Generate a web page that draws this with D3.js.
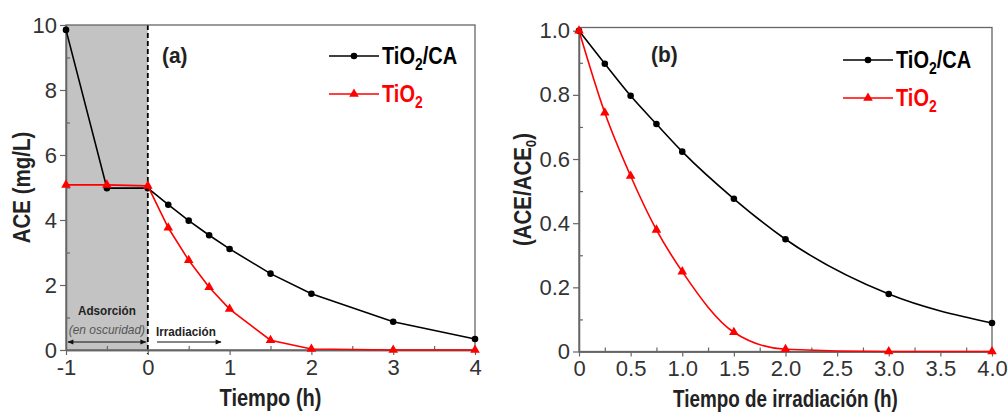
<!DOCTYPE html>
<html>
<head>
<meta charset="utf-8">
<script src="https://cdn.jsdelivr.net/npm/d3@7"></script>
<style>
  body { margin: 0; background: #fff; }
  svg { display: block; }
  text { font-family: "Liberation Sans Narrow", "Arial Narrow", "Liberation Sans", Arial, sans-serif; }
</style>
</head>
<body>
<svg id="chart" width="1008" height="413"></svg>
<script>
// panel (a): concentration vs time (h), dark phase from -1 to 0
const timeA = [-1, -0.5, 0, 0.25, 0.5, 0.75, 1, 1.5, 2, 3, 4];
const aceCA = [9.85, 4.98, 4.98, 4.47, 3.98, 3.53, 3.11, 2.35, 1.73, 0.87, 0.34];
const aceTi = [5.08, 5.08, 5.05, 3.76, 2.76, 1.93, 1.26, 0.3, 0.03, 0, 0];

// panel (b): normalised concentration vs irradiation time
const timeB = [0, 0.25, 0.5, 0.75, 1, 1.5, 2, 3, 4];
const relCA = [1.0, 0.897, 0.797, 0.709, 0.623, 0.476, 0.35, 0.179, 0.089];
const relTi = [1.0, 0.744, 0.547, 0.379, 0.249, 0.06, 0.007, 0, 0];

const ticksAx = [-1, 0, 1, 2, 3, 4];
const ticksAy = [0, 2, 4, 6, 8, 10];
const ticksBx = [0, 0.5, 1, 1.5, 2, 2.5, 3, 3.5, 4];
const ticksBy = [0, 0.2, 0.4, 0.6, 0.8, 1.0];

const svg = d3.select("#chart");
const frameCol = "#666";
const red = "#ff0000";

// the original uses a narrow font; squeeze text horizontally instead
function ntext(g, x, y, size, sx) {
    return g.append("text")
        .attr("transform", `translate(${x},${y}) scale(${sx},1)`)
        .attr("font-size", size);
}

function panel(o) {
    const x = d3.scaleLinear().domain(o.xd).range(o.xr);
    const y = d3.scaleLinear().domain(o.yd).range(o.yr);
    const g = svg.append("g");

    if (o.before) o.before(g, x, y);

    // frame
    g.append("rect")
        .attr("x", o.xr[0]).attr("y", o.yr[1])
        .attr("width", o.xr[1] - o.xr[0]).attr("height", o.yr[0] - o.yr[1])
        .attr("fill", "none").attr("stroke", frameCol).attr("stroke-width", 1.3);

    // major ticks outward, minor inward
    const xAxis = g.append("g").attr("transform", `translate(0,${o.yr[0]})`)
        .call(d3.axisBottom(x).tickValues(o.xt).tickFormat(o.xf).tickSizeInner(5).tickSizeOuter(0).tickPadding(3));
    const xMinor = g.append("g").attr("transform", `translate(0,${o.yr[0]})`)
        .call(d3.axisTop(x).tickValues(o.xm).tickFormat("").tickSizeInner(4).tickSizeOuter(0));
    const yAxis = g.append("g").attr("transform", `translate(${o.xr[0]},0)`)
        .call(d3.axisLeft(y).tickValues(o.yt).tickFormat(o.yf).tickSizeInner(6).tickSizeOuter(0).tickPadding(3));
    const yMinor = g.append("g").attr("transform", `translate(${o.xr[0]},0)`)
        .call(d3.axisRight(y).tickValues(o.ym).tickFormat("").tickSizeInner(4).tickSizeOuter(0));
    [xAxis, xMinor, yAxis, yMinor].forEach(a => {
        a.select(".domain").attr("stroke", frameCol).attr("stroke-width", 1.3);
        a.selectAll(".tick line").attr("stroke", frameCol).attr("stroke-width", 1.2);
        a.selectAll("text").attr("font-size", 22).attr("fill", "#333");
    });
    xAxis.selectAll("text").attr("dy", "0.75em");

    // series
    o.series.forEach(s => {
        const pts = o.xs.map((d, i) => [d, s.v[i]]);
        const line = d3.line().x(d => x(d[0])).y(d => y(d[1])).curve(o.curve);
        g.append("path").datum(pts)
            .attr("d", line).attr("fill", "none")
            .attr("stroke", s.col).attr("stroke-width", 1.6);
        g.selectAll(null).data(pts).enter()
            .append("path")
            .attr("transform", d => `translate(${x(d[0])},${y(d[1])})`)
            .attr("d", d3.symbol().type(s.sym).size(s.size))
            .attr("fill", s.col);
    });

    // legend
    o.series.forEach((s, i) => {
        const ly = o.leg[1] + i * 38;
        g.append("line").attr("x1", o.leg[0]).attr("x2", o.leg[0] + 50)
            .attr("y1", ly).attr("y2", ly).attr("stroke", s.col).attr("stroke-width", 1.6);
        g.append("path").attr("transform", `translate(${o.leg[0] + 25},${ly})`)
            .attr("d", d3.symbol().type(s.sym).size(s.size)).attr("fill", s.col);
        const t = ntext(g, o.leg[0] + 53, ly + 8, 23, 0.87)
            .attr("font-weight", "bold").attr("fill", s.col);
        t.append("tspan").text("TiO");
        t.append("tspan").attr("font-size", 16).attr("dy", 6).text("2");
        if (s.name === "TiO2/CA") t.append("tspan").attr("dy", -6).text("/CA");
    });

    // panel letter
    ntext(g, o.letter[0], o.letter[1], 22, 0.95)
        .attr("font-weight", "bold").attr("fill", "#222")
        .text(o.letterText);

    // axis titles
    ntext(g, (o.xr[0] + o.xr[1]) / 2, o.xTitleY, 23, o.xTitleSx)
        .attr("text-anchor", "middle").attr("font-weight", "bold").attr("fill", "#222")
        .text(o.xTitle);
    const yt = g.append("text")
        .attr("transform", `translate(${o.yTitleX},${(o.yr[0] + o.yr[1]) / 2}) rotate(-90) scale(0.89,1)`)
        .attr("text-anchor", "middle").attr("font-size", 23).attr("font-weight", "bold").attr("fill", "#222");
    o.yTitle(yt);
    return { x, y, g };
}

const seriesA = [
    { name: "TiO2/CA", v: aceCA, col: "#000", sym: d3.symbolCircle, size: 34 },
    { name: "TiO2", v: aceTi, col: red, sym: d3.symbolTriangle, size: 40 }
];
const seriesB = [
    { name: "TiO2/CA", v: relCA, col: "#000", sym: d3.symbolCircle, size: 34 },
    { name: "TiO2", v: relTi, col: red, sym: d3.symbolTriangle, size: 40 }
];

// defs for arrow heads
const defs = svg.append("defs");
defs.append("marker").attr("id", "arr").attr("viewBox", "0 0 10 10")
    .attr("refX", 9).attr("refY", 5).attr("markerWidth", 8).attr("markerHeight", 6)
    .attr("orient", "auto-start-reverse")
    .append("path").attr("d", "M0,1L10,5L0,9z").attr("fill", "#111");

const hyphenInt = d => (d < 0 ? "-" : "") + Math.abs(d);
const zeroOr1f = d => d === 0 ? "0" : d3.format(".1f")(d);

panel({
    xd: [-1, 4], xr: [66, 475], yd: [0, 10], yr: [350, 25],
    xt: ticksAx, xm: [-0.5, 0.5, 1.5, 2.5, 3.5], xf: hyphenInt,
    yt: ticksAy, ym: [1, 3, 5, 7, 9], yf: d3.format("d"),
    xs: timeA, series: seriesA, curve: d3.curveLinear,
    leg: [329, 56], letter: [162, 63], letterText: "(a)",
    xTitle: "Tiempo (h)", xTitleY: 406, xTitleSx: 0.87, yTitleX: 30,
    yTitle: t => t.text("ACE (mg/L)"),
    before: (g, x, y) => {
        g.append("rect").attr("x", x(-1)).attr("y", y(10))
            .attr("width", x(0) - x(-1)).attr("height", y(0) - y(10))
            .attr("fill", "#c3c3c3");
        g.append("line").attr("x1", x(0)).attr("x2", x(0))
            .attr("y1", y(10)).attr("y2", y(0) + 4)
            .attr("stroke", "#000").attr("stroke-width", 1.8).attr("stroke-dasharray", "5,3");
        ntext(g, x(-0.5), 315, 13, 0.9).attr("text-anchor", "middle")
            .attr("font-weight", "bold").attr("fill", "#222").text("Adsorción");
        ntext(g, x(-0.5), 334, 13, 0.92).attr("text-anchor", "middle")
            .attr("font-style", "italic").attr("fill", "#555").text("(en oscuridad)");
        g.append("line").attr("x1", x(-1) + 2).attr("x2", x(0) - 2).attr("y1", 342).attr("y2", 342)
            .attr("stroke", "#111").attr("stroke-width", 1)
            .attr("marker-start", "url(#arr)").attr("marker-end", "url(#arr)");
        ntext(g, 156, 336, 13, 0.9)
            .attr("font-weight", "bold").attr("fill", "#222").text("Irradiación");
        g.append("line").attr("x1", 157).attr("x2", 221).attr("y1", 342).attr("y2", 342)
            .attr("stroke", "#111").attr("stroke-width", 1).attr("marker-end", "url(#arr)");
    }
});

panel({
    xd: [0, 4], xr: [579, 992], yd: [0, 1.01], yr: [351.5, 27.5],
    xt: ticksBx, xm: [0.25, 0.75, 1.25, 1.75, 2.25, 2.75, 3.25, 3.75], xf: zeroOr1f,
    yt: ticksBy, ym: [0.1, 0.3, 0.5, 0.7, 0.9], yf: zeroOr1f,
    xs: timeB, series: seriesB, curve: d3.curveMonotoneX,
    leg: [843, 60], letter: [651, 62], letterText: "(b)",
    xTitle: "Tiempo de irradiación (h)", xTitleY: 407, xTitleSx: 0.82, yTitleX: 531,
    yTitle: t => {
        t.append("tspan").text("(ACE/ACE");
        t.append("tspan").attr("font-size", 15).attr("dy", 5).text("0");
        t.append("tspan").attr("dy", -5).text(")");
    }
});
</script>
</body>
</html>
